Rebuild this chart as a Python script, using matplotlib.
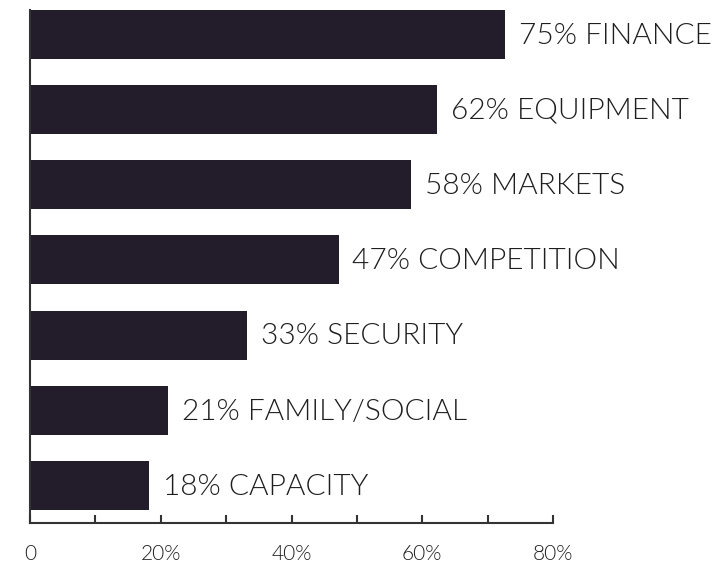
import matplotlib.pyplot as plt

categories = ['FINANCE', 'EQUIPMENT', 'MARKETS', 'COMPETITION', 'SECURITY', 'FAMILY/SOCIAL', 'CAPACITY']
label_pct = [75, 62, 58, 47, 33, 21, 18]
bar_len = [72.7, 62.2, 58.3, 47.2, 33.2, 21.1, 18.2]

bar_color = '#231c2b'
text_color = '#1e1e1e'

fig = plt.figure(figsize=(7.15, 5.67), dpi=100)
ax = fig.add_axes([0.042, 0.0776, 0.7314, 0.9048])

y = list(range(len(categories)))
ax.barh(y, bar_len, height=0.65, color=bar_color)

for yi, v, p, c in zip(y, bar_len, label_pct, categories):
    ax.annotate(f'{p}% {c}', xy=(v, yi), xytext=(10, -1), textcoords='offset points',
                va='center', ha='left', fontsize=21.5, color=text_color,
                family='Lato', fontweight=300, annotation_clip=False)

ax.set_xlim(0, 80)
ax.set_ylim(6.5, -0.325)
ax.set_xticks([0, 20, 40, 60, 80])
ax.set_xticklabels(['0', '20%', '40%', '60%', '80%'], family='Lato', fontweight=300,
                   fontsize=15, color=text_color)
ax.set_xticks([10, 30, 50, 70], minor=True)
ax.set_yticks([])
ax.tick_params(axis='x', which='both', direction='in', length=6, width=1.5,
               color='#333333', pad=15)

for s in ['top', 'right']:
    ax.spines[s].set_visible(False)
for s in ['left', 'bottom']:
    ax.spines[s].set_linewidth(1.5)
    ax.spines[s].set_color('#333333')

fig.savefig('out.png', dpi=100)
